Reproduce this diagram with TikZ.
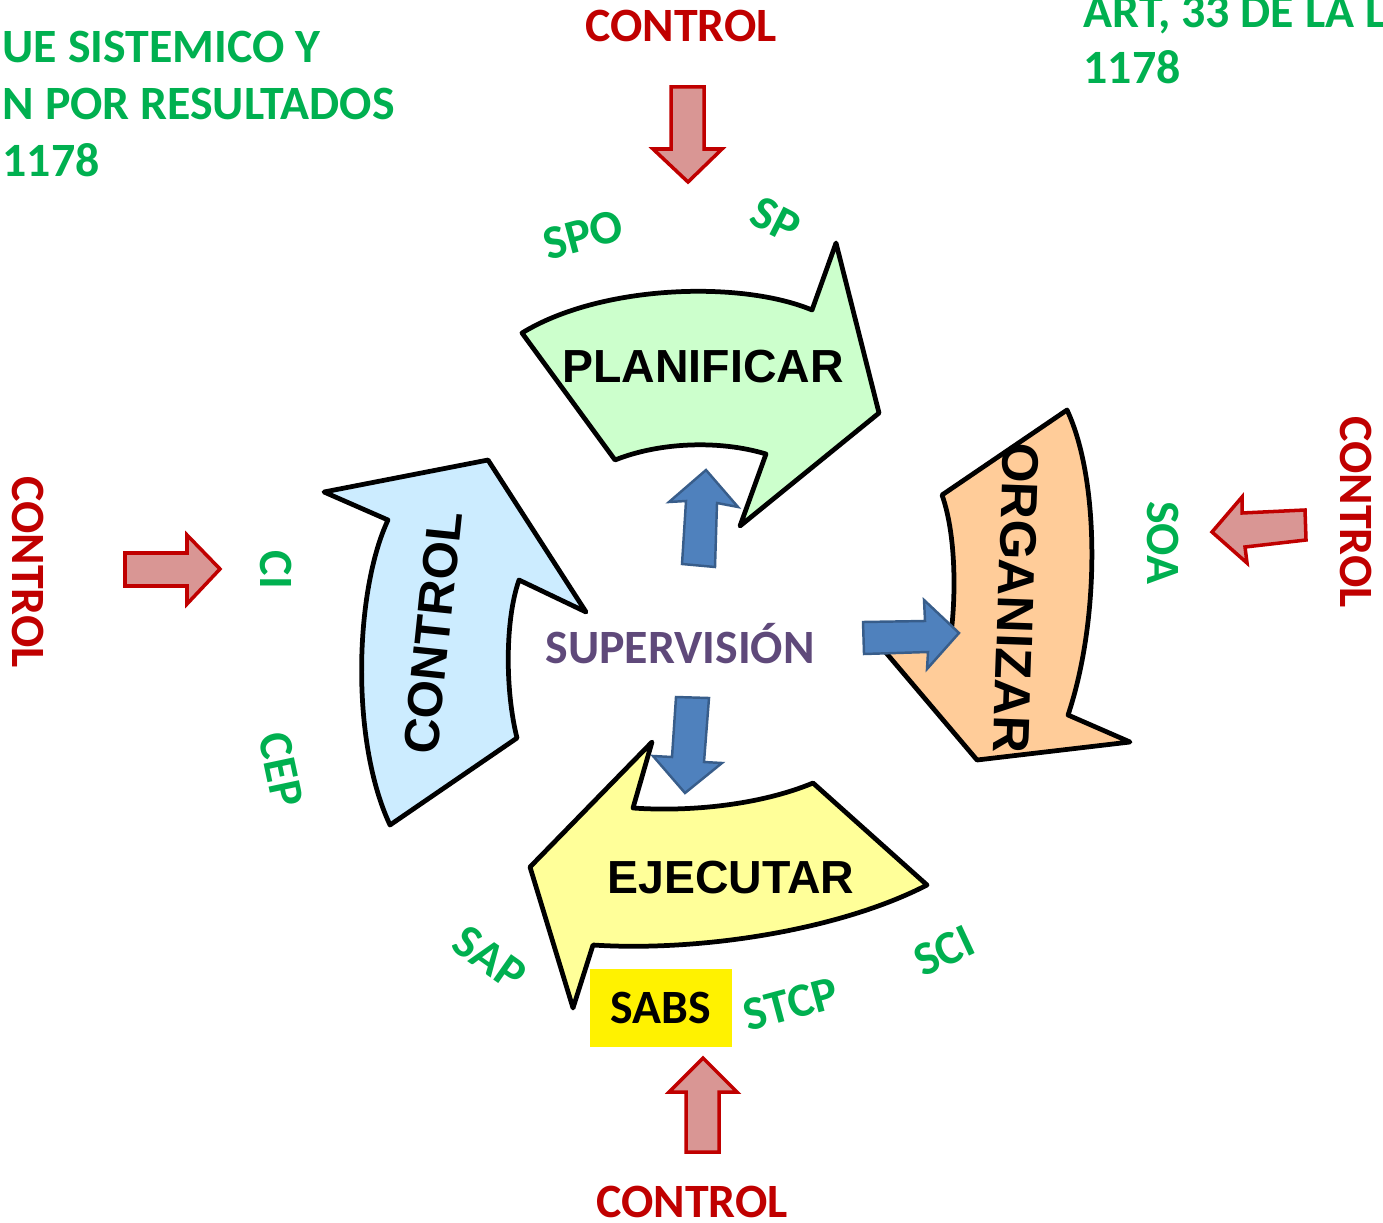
\documentclass[tikz,border=0pt]{standalone}
\usepackage{fontspec}
\setmainfont{Carlito}
\newfontfamily\arialfont{Liberation Sans}
\definecolor{plangreen}{HTML}{CCFFCC}
\definecolor{orgorange}{HTML}{FFCC99}
\definecolor{ejeyellow}{HTML}{FFFF99}
\definecolor{ctrlblue}{HTML}{CCECFF}
\definecolor{supfill}{HTML}{4F81BD}
\definecolor{supline}{HTML}{385D8A}
\definecolor{ctrlred}{HTML}{C00000}
\definecolor{ctrlpink}{HTML}{D99694}
\definecolor{sysgreen}{HTML}{00B050}
\definecolor{suppurple}{HTML}{5F497A}
\tikzset{
    stagearrow/.style={draw=black, line width=1.35pt, line join=round},
    stagetext/.style={inner sep=0pt, font=\arialfont\bfseries\fontsize{13.2}{16}\selectfont},
    suparrow/.style={draw=supline, fill=supfill, line width=0.7pt},
    ctrlarrow/.style={draw=ctrlred, fill=ctrlpink, line width=1pt},
    lbl/.style={inner sep=0pt, font=\bfseries\fontsize{13.6}{16}\selectfont},
    syslbl/.style={lbl, text=sysgreen},
    ctrllbl/.style={lbl, text=ctrlred}
}
\begin{document}
\begin{tikzpicture}[x=0.01cm, y=-0.01cm]
    \useasboundingbox (0,0) rectangle (1383,1222);

    % header texts
    \foreach [count=\i] \t in {UE SISTEMICO Y, N POR RESULTADOS, 1178} {
        \node[syslbl, anchor=base west] (hdl-\i) at (2, {63+57*(\i-1)}) {\t};
    }
    \foreach [count=\i] \t in {{ART, 33 DE LA L}, 1178} {
        \node[syslbl, anchor=base west] (hdr-\i) at (1083, {28+56*(\i-1)}) {\t};
    }

    % the four stages
    \draw[stagearrow, fill=plangreen]
        (522,333) .. controls (600,285) and (740,280) .. (812,310)
        -- (836,243) -- (879,413) -- (740,526) -- (766,454)
        .. controls (720,440) and (660,442) .. (615,460) -- cycle;
    \draw[stagearrow, fill=orgorange]
        (1067,410) -- (942,495) .. controls (958,540) and (955,610) .. (950,640)
        -- (882,648) -- (977,760) -- (1130,742) -- (1068,715)
        .. controls (1100,620) and (1100,480) .. (1067,410) -- cycle;
    \draw[stagearrow, fill=ejeyellow]
        (813,783) .. controls (760,805) and (690,812) .. (633,808)
        -- (652,742) -- (530,867) -- (573,1008) -- (593,945)
        .. controls (700,952) and (840,930) .. (927,885) -- cycle;
    \draw[stagearrow, fill=ctrlblue]
        (390,825) .. controls (350,740) and (355,590) .. (388,520)
        -- (324,492) -- (488,460) -- (586,612) -- (519,580)
        .. controls (505,620) and (505,690) .. (517,738) -- cycle;

    \node[stagetext] (planificar) at (703,367) {PLANIFICAR};
    \node[stagetext, font=\arialfont\bfseries\fontsize{14.6}{16}\selectfont, rotate=-92] (organizar) at (1016,598) {ORGANIZAR};
    \node[stagetext] (ejecutar) at (731,878) {EJECUTAR};
    \node[stagetext, font=\arialfont\bfseries\fontsize{14}{16}\selectfont, rotate=84] (control) at (433,633) {CONTROL};

    % supervision in the middle
    \node[lbl, text=suppurple] (supervision) at (680,644) {SUPERVISIÓN};
    \draw[suparrow] (682,564) -- (686,501) -- (669,502) -- (706,470) -- (738,507) -- (717,503) -- (715,567) -- cycle;
    \draw[suparrow] (863,622) -- (925,621) -- (924,600) -- (959,633) -- (927,669) -- (928,652) -- (864,654) -- cycle;
    \draw[suparrow] (676,697) -- (709,698) -- (704,762) -- (722,763) -- (685,793) -- (653,756) -- (672,757) -- cycle;

    % control from outside
    \node[ctrllbl] (ctrl-top) at (681,26) {CONTROL};
    \node[ctrllbl, rotate=-90] (ctrl-left) at (28,572) {CONTROL};
    \node[ctrllbl, rotate=-90] (ctrl-right) at (1356,512) {CONTROL};
    \node[ctrllbl] (ctrl-bottom) at (692,1202) {CONTROL};
    \draw[ctrlarrow] (671,87) -- (704,87) -- (704,149) -- (722,149) -- (688,182) -- (653,149) -- (671,149) -- cycle;
    \draw[ctrlarrow] (125,553) -- (187,553) -- (187,535) -- (220,569) -- (187,604) -- (187,586) -- (125,586) -- cycle;
    \draw[ctrlarrow] (1305,510) -- (1306,540) -- (1245,547) -- (1247,563) -- (1212,532) -- (1242,497) -- (1242,513) -- cycle;
    \draw[ctrlarrow] (686,1152) -- (686,1092) -- (669,1092) -- (703,1058) -- (737,1092) -- (719,1092) -- (719,1152) -- cycle;

    % systems
    \node[syslbl, rotate=15] (spo) at (583,235) {SPO};
    \node[syslbl, rotate=-27] (sp) at (776,220) {SP};
    \node[syslbl, rotate=-90] (soa) at (1163,543) {SOA};
    \node[syslbl, rotate=25] (sci) at (944,951) {SCI};
    \node[syslbl, rotate=15] (stcp) at (791,1004) {STCP};
    \node[lbl, fill=yellow, minimum width=1.41cm, minimum height=0.78cm] (sabs) at (661,1008) {SABS};
    \node[syslbl, rotate=-35] (sap) at (490,958) {SAP};
    \node[syslbl, rotate=-78] (cep) at (281,770) {CEP};
    \node[syslbl, rotate=-90] (ci) at (276,570) {CI};
\end{tikzpicture}
\end{document}
